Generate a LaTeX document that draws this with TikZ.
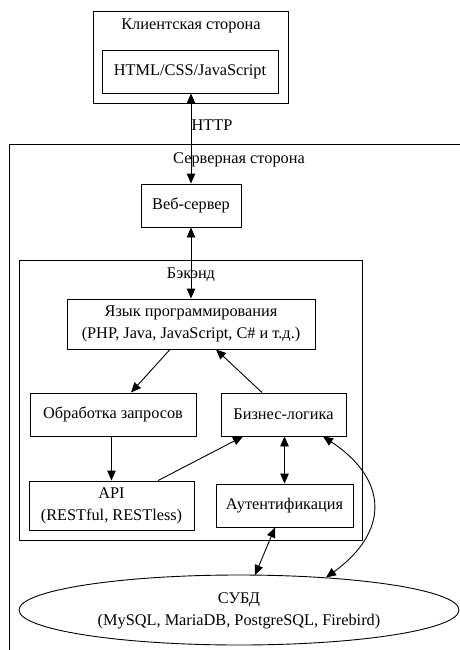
\documentclass[tikz,border=0pt]{standalone}
\usepackage{fontspec}
\setmainfont{Liberation Serif}
\usetikzlibrary{arrows.meta,shapes.geometric,calc}
\tikzset{
  lw/.style={line width=0.9pt},
  txt/.style={font=\fontsize{16.3}{21.7}\selectfont, align=center},
  box/.style={draw, rectangle, lw, inner sep=0pt, txt},
  cluster/.style={draw, rectangle, lw, inner sep=0pt},
  lbl/.style={inner sep=0pt, txt},
  arr/.style={lw, -{Triangle[length=10pt,width=8.5pt]}},
  darr/.style={lw, {Triangle[length=10pt,width=8.5pt]}-{Triangle[length=10pt,width=8.5pt]}},
}
\begin{document}
\begin{tikzpicture}[x=1pt,y=-1pt]
\useasboundingbox (0,0) rectangle (459,650);
% clusters
\node[cluster, minimum width=195pt, minimum height=92pt] (client) at (190.5,57) {};
\node[lbl] (clientlbl) at (191,26) {Клиентская сторона};
\draw[lw] (9,652) |- (461,144);
\node[lbl] (serverlbl) at (239,160) {Серверная сторона};
\node[cluster, minimum width=343pt, minimum height=280pt] (backend) at (190.5,400) {};
\node[lbl] (backendlbl) at (191,275) {Бэкэнд};
% nodes
\node[box, minimum width=176pt, minimum height=43pt] (html) at (190,71.5) {HTML/CSS/JavaScript};
\node[box, minimum width=100pt, minimum height=43pt] (web) at (191,205.5) {Веб-сервер};
\node[box, minimum width=248pt, minimum height=50pt] (lang) at (191,324) {Язык программирования\\(PHP, Java, JavaScript, C\# и т.д.)};
\node[box, minimum width=166pt, minimum height=43pt] (proc) at (113,414.5) {Обработка запросов};
\node[box, minimum width=125pt, minimum height=43pt] (biz) at (283.5,414.5) {Бизнес-логика};
\node[box, minimum width=165pt, minimum height=49pt] (api) at (111.5,505.5) {API\\(RESTful, RESTless)};
\node[box, minimum width=137pt, minimum height=43pt] (auth) at (284.5,505.5) {Аутентификация};
\node[draw, ellipse, lw, inner sep=0pt, txt, minimum width=440pt, minimum height=70pt] (dbms) at (239,610) {\raisebox{-3pt}{\begin{tabular}{@{}c@{}}СУБД\\[0.3pt](MySQL, MariaDB, PostgreSQL, Firebird)\end{tabular}}};
\node[lbl] (http) at (212,125) {HTTP};
% edges
\draw[darr] (web.north |- html.south) -- (web.north);
\draw[darr] (web.south) -- (web.south |- lang.north);
\draw[arr] ([xshift=-21pt]lang.south) -- ([xshift=18pt]proc.north);
\draw[arr] ([xshift=-21.5pt]biz.north) -- ([xshift=25pt]lang.south);
\draw[arr] (api.north |- proc.south) -- (api.north);
\draw[arr] ([xshift=46.5pt]api.north) -- ([xshift=-40.5pt]biz.south);
\draw[darr] (auth.north |- biz.south) -- (auth.north);
\draw[darr] ([xshift=-9.5pt]auth.south) -- ([xshift=16pt,yshift=-0.5pt]dbms.north);
\draw[darr] ([xshift=39.5pt]biz.south) .. controls (389,480) and (389,532) .. ($(dbms.center)+(87,-32.5)$);
\end{tikzpicture}
\end{document}
